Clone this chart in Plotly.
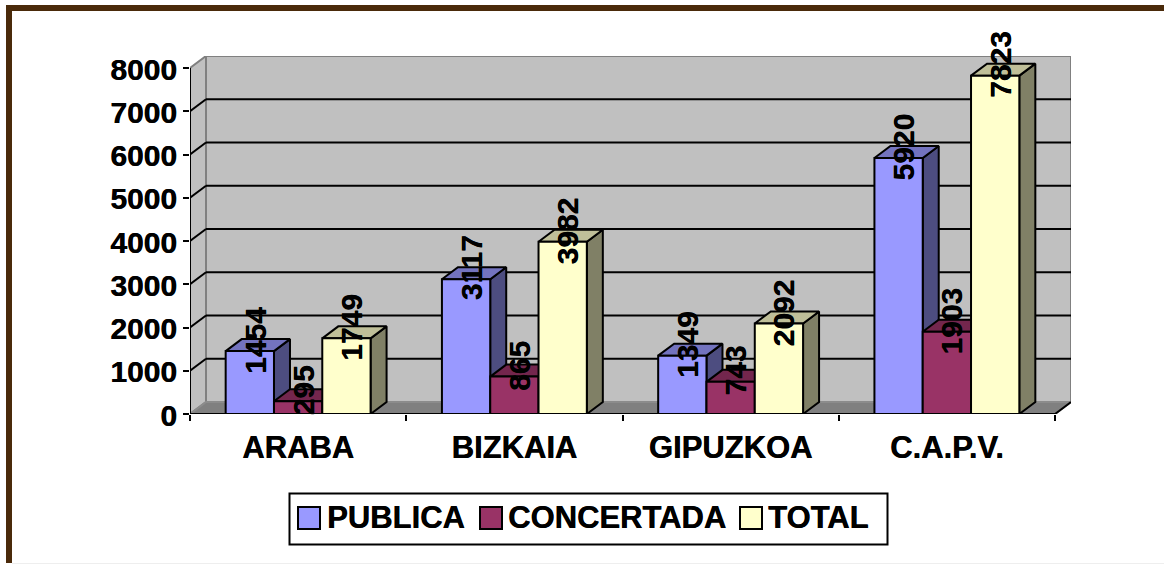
import plotly.graph_objects as go

categories = ["ARABA", "BIZKAIA", "GIPUZKOA", "C.A.P.V."]
series_names = ["PUBLICA", "CONCERTADA", "TOTAL"]
publica = [1454, 3117, 1349, 5920]
concertada = [295, 865, 743, 1903]
total = [1749, 3982, 2092, 7823]
y_ticks = [0, 1000, 2000, 3000, 4000, 5000, 6000, 7000, 8000]

front_colors = ["#9999FF", "#993366", "#FFFFCC"]
top_colors = ["#7373BF", "#73264D", "#BFBF99"]
side_colors = ["#4D4D80", "#4D1A33", "#808066"]

W, H = 1164, 565
X0, Y0 = 190, 414          # front-plane origin in px
CAT_PX = 216.25
VAL_PX = 0.04325
DX_PX, DY_PX = 16, 12
BAR_PX = 48.3
FONT = dict(family="Liberation Sans, Arial, sans-serif", size=31, color="black", weight=700,
            shadow="0.4px 0 0 #000")
NUM_FONT = dict(FONT, size=30)

dx = DX_PX / CAT_PX
dy = DY_PX / VAL_PX
bw = BAR_PX / CAT_PX
n = len(categories)
xmax = n + dx
ymax = y_ticks[-1] + dy + (Y0 - 8000 * VAL_PX - DY_PX - 56) / VAL_PX
centers = [i + 0.5 for i in range(n)]
BLACK = dict(color="black", width=2)
GRAY = dict(color="#808080", width=2)

fig = go.Figure()
shapes = []


def poly(points, fill, line):
    path = "M" + "L".join(f"{x},{y}" for x, y in points) + "Z"
    shapes.append(dict(type="path", path=path, xref="x", yref="y", fillcolor=fill, line=line, layer="below"))


def seg(x0, y0, x1, y1, line):
    shapes.append(dict(type="line", x0=x0, y0=y0, x1=x1, y1=y1, xref="x", yref="y", line=line, layer="below"))


# walls and floor
top = y_ticks[-1]
poly([(0, 0), (dx, dy), (dx, top + dy), (0, top)], "#C0C0C0", dict(color="#808080", width=2))
poly([(dx, dy), (n + dx, dy), (n + dx, top + dy), (dx, top + dy)], "#C0C0C0", GRAY)
poly([(0, 0), (n, 0), (n + dx, dy), (dx, dy)], "#808080", dict(color="#8C8C8C", width=2))
for t in y_ticks[1:-1]:
    seg(0, t, dx, t + dy, BLACK)
    seg(dx, t + dy, n + dx, t + dy, BLACK)
seg(n, 0, n + dx, dy, BLACK)
seg(0, 0, n, 0, BLACK)
seg(0, 0, 0, top, BLACK)

all_values = [publica, concertada, total]
z = 1
annotations = []
for s, (name, vals) in enumerate(zip(series_names, all_values)):
    off = (s - 1.5) * bw
    sx, sy, tx, ty = [], [], [], []
    for c, v in zip(centers, vals):
        x0 = c + off
        x1 = x0 + bw
        sx += [x1, x1 + dx, x1 + dx, x1, x1, None]
        sy += [0, dy, v + dy, v, 0, None]
        tx += [x0, x1, x1 + dx, x0 + dx, x0, None]
        ty += [v, v, v + dy, v + dy, v, None]
        annotations.append(dict(
            x=x0 + bw / 2, y=v, xref="x", yref="y", text=str(v), textangle=-90,
            showarrow=False, font=NUM_FONT, xanchor="center", yanchor="middle",
            xshift=5, yshift=11, borderpad=0,
        ))
    fig.add_trace(go.Scatter(x=sx, y=sy, mode="lines", fill="toself", fillcolor=side_colors[s],
                             line=BLACK, hoverinfo="skip", showlegend=False, zorder=z))
    fig.add_trace(go.Scatter(x=tx, y=ty, mode="lines", fill="toself", fillcolor=top_colors[s],
                             line=BLACK, hoverinfo="skip", showlegend=False, zorder=z))
    fig.add_trace(go.Bar(x=centers, y=vals, width=bw, offset=off, name=name,
                         marker=dict(color=front_colors[s], line=BLACK), showlegend=False, zorder=z + 1))
    z += 2


def px_x(p):
    return p / W


def px_y(p):
    return 1 - p / H


# outer frame
FRAME = "#4A2A0A"
shapes.append(dict(type="rect", xref="paper", yref="paper", x0=px_x(6), x1=px_x(W), y0=px_y(11), y1=px_y(5),
                   fillcolor=FRAME, line=dict(width=0), layer="below"))
shapes.append(dict(type="rect", xref="paper", yref="paper", x0=px_x(6), x1=px_x(12), y0=px_y(563), y1=px_y(5),
                   fillcolor=FRAME, line=dict(width=0), layer="below"))
shapes.append(dict(type="line", xref="paper", yref="paper", x0=px_x(12), x1=px_x(W), y0=px_y(563.5), y1=px_y(563.5),
                   line=dict(color="#EEEEEE", width=1), layer="below"))

# legend
shapes.append(dict(type="rect", xref="paper", yref="paper", x0=px_x(289.5), x1=px_x(887.5), y0=px_y(544.5), y1=px_y(493.5),
                   fillcolor="white", line=BLACK, layer="above"))
legend_swatch = [298, 480, 740]
legend_text = [326, 506.5, 766.5]
for s, name in enumerate(series_names):
    shapes.append(dict(type="rect", xref="paper", yref="paper",
                       x0=px_x(legend_swatch[s]), x1=px_x(legend_swatch[s] + 22),
                       y0=px_y(529), y1=px_y(507), fillcolor=front_colors[s], line=BLACK, layer="above"))
    annotations.append(dict(x=px_x(legend_text[s]), y=px_y(517), xref="paper", yref="paper", text=name,
                            showarrow=False, font=FONT, xanchor="left", yanchor="middle", borderpad=0))

fig.update_layout(
    width=W, height=H, margin=dict(l=0, r=0, t=0, b=0, pad=0, autoexpand=False),
    paper_bgcolor="white", plot_bgcolor="rgba(0,0,0,0)", barmode="overlay", showlegend=False,
    shapes=shapes, annotations=annotations,
    xaxis=dict(domain=[px_x(X0), px_x(X0 + xmax * CAT_PX)], range=[0, xmax], tickmode="array",
               tickvals=centers, ticktext=categories, ticks="", ticklen=0, showgrid=False, zeroline=False,
               showline=False, tickfont=FONT, ticklabelstandoff=12, fixedrange=True,
               minor=dict(tickmode="array", tickvals=list(range(n + 1)), ticks="outside", ticklen=6,
                          tickwidth=2, tickcolor="black", showgrid=False)),
    yaxis=dict(domain=[px_y(Y0), px_y(Y0 - ymax * VAL_PX)], range=[0, ymax], tickmode="array",
               tickvals=y_ticks, ticktext=[str(t) for t in y_ticks], ticks="outside", ticklen=6,
               tickwidth=2, tickcolor="black", showgrid=False, zeroline=False, showline=False,
               tickfont=NUM_FONT, ticklabelstandoff=0, ticklabelshift=1, fixedrange=True),
)

fig.write_html("out.html", config=dict(displayModeBar=False),
               post_script="document.body.style.margin='0';document.body.style.overflow='hidden';")
